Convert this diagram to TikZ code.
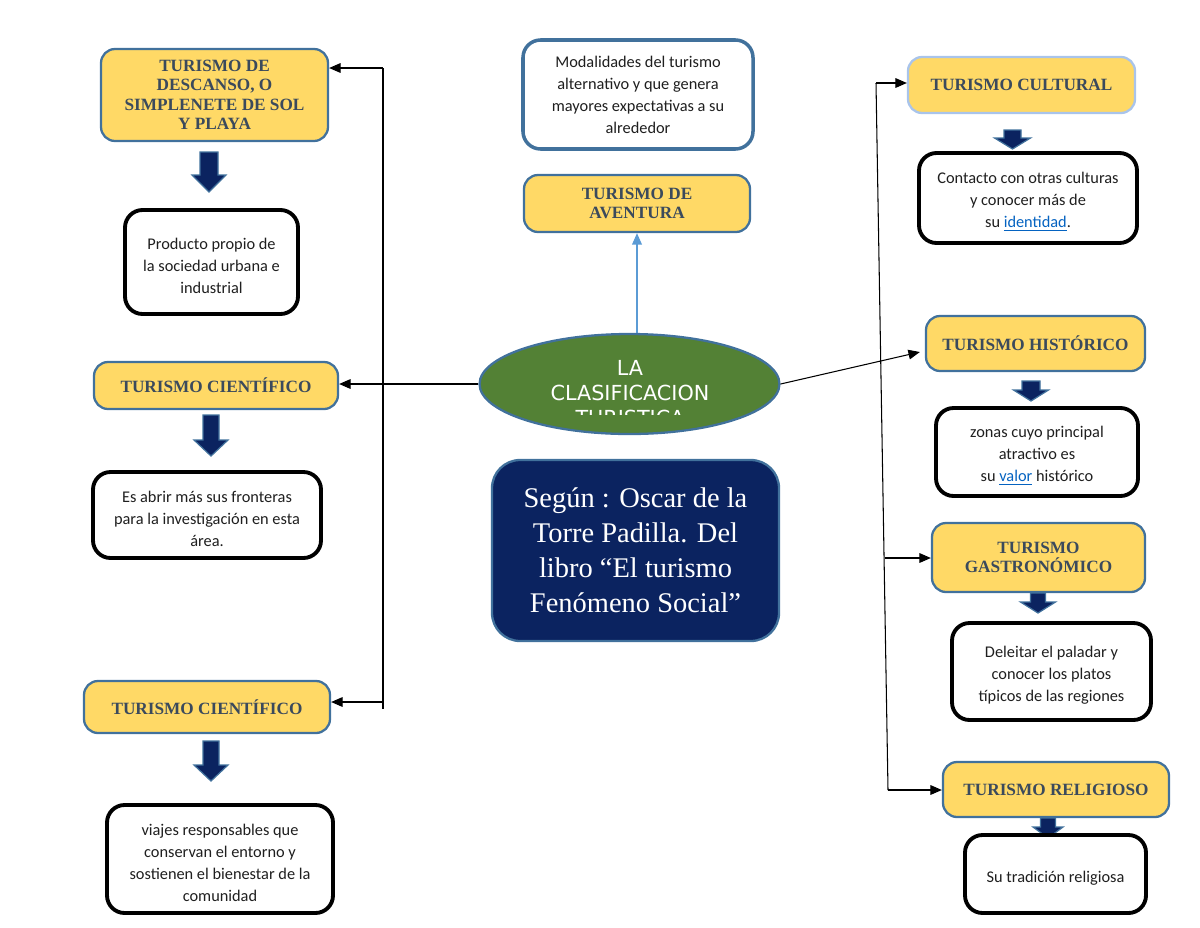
\documentclass[tikz,border=0pt]{standalone}
\usepackage{fontspec}
\setmainfont{Liberation Serif}
\newfontfamily\bodyfont{Carlito}
\newfontfamily\ellfont{DejaVu Sans}
\usetikzlibrary{arrows.meta,shapes.geometric,calc}
\definecolor{yfill}{HTML}{FFD966}
\definecolor{bord}{HTML}{41719C}
\definecolor{ltbord}{HTML}{A9C4EB}
\definecolor{ytext}{HTML}{3B4A5C}
\definecolor{navyfill}{HTML}{0B2360}
\definecolor{ellgreen}{HTML}{538135}
\definecolor{lnk}{HTML}{0563C1}
\definecolor{ltblue}{HTML}{5B9BD5}
\definecolor{bodytext}{HTML}{1F1F1F}
\newcommand\lnkword[1]{\textcolor{lnk}{\underline{#1}}}
\newcommand\tstrut{\rule{0pt}{11pt}}
\newcommand\blkarrow[6]{%
  \filldraw[fill=navyfill, draw=bord, line width=0.7pt, line join=miter]
  ({#1-#5},#2) -- ({#1+#5},#2) -- ({#1+#5},#3) -- ({#1+#6},#3) -- (#1,#4)
  -- ({#1-#6},#3) -- ({#1-#5},#3) -- cycle;}
% \boxat{style}{name}{x1}{y1}{x2}{y2}{text}
\newcommand\boxat[7]{%
  \node[#1, minimum width={(#5-#3)*0.02cm}, minimum height={(#6-#4)*0.02cm}]
  (#2) at ({(#3+#5)/2},{(#4+#6)/2}) {#7};}
\tikzset{
  ybox/.style={draw=bord, line width=1.3pt, fill=yfill, rounded corners=8pt,
    inner sep=0pt, align=center, text=ytext,
    font=\fontsize{9.8}{11.1}\selectfont\bfseries},
  bbox/.style={draw=black, line width=2.2pt, fill=white, rounded corners=10pt,
    inner sep=0pt, align=center, text=bodytext,
    font=\bodyfont\fontsize{9.3}{12.5}\selectfont},
  mbox/.style={draw=bord, line width=2pt, fill=white, rounded corners=10pt, inner sep=0pt,
    align=center, text=bodytext, font=\bodyfont\fontsize{9.3}{12.5}\selectfont},
  nbox/.style={draw=bord, line width=1.3pt, fill=navyfill, rounded corners=16pt, inner sep=0pt,
    align=center, text=white, font=\fontsize{16.2}{20}\selectfont},
  elltext/.style={anchor=base, text=white, font=\ellfont\fontsize{11.8}{14}\selectfont, inner sep=0pt},
  conn/.style={draw=black, line width=0.6pt, -{Triangle[length=6.5pt,width=5.5pt]}},
  trunk/.style={draw=black, line width=0.6pt},
}
\begin{document}
\begin{tikzpicture}[x=0.02cm,y=-0.02cm]
\useasboundingbox (0,0) rectangle (1200,927);
% ---------------- left column
\boxat{ybox}{desc}{101}{49}{328}{141}{TURISMO DE\\DESCANSO, O\\SIMPLENETE DE SOL\\Y PLAYA}
\blkarrow{209}{152}{175}{192}{9}{17}
\boxat{bbox}{descb}{125}{210}{298}{314}{\tstrut Producto propio de\\la sociedad urbana e\\industrial}
\boxat{ybox}{cien1}{94}{362}{338}{409}{TURISMO CIENTÍFICO}
\blkarrow{211}{415}{440}{456}{8}{17}
\boxat{bbox}{cien1b}{93}{472}{321}{558}{\tstrut Es abrir más sus fronteras\\para la investigación en esta\\área.}
\boxat{ybox}{cien2}{84}{681}{330}{733}{TURISMO CIENTÍFICO}
\blkarrow{211}{741}{765}{781}{8}{17}
\boxat{bbox}{cien2b}{107}{805}{333}{913}{\tstrut viajes responsables que\\conservan el entorno y\\sostienen el bienestar de la\\comunidad}
% ---------------- centre
\boxat{mbox}{modal}{523}{40}{753}{149}{Modalidades del turismo\\alternativo y que genera\\mayores expectativas a su\\alrededor}
\boxat{ybox}{aven}{524}{175}{750}{232}{TURISMO DE\\AVENTURA}
\node[ellipse, draw=bord, line width=1.3pt, fill=ellgreen, minimum width=6cm,
  minimum height=2cm, inner sep=0pt] (ell) at (629.5,384) {};
\begin{scope}
  \clip (480,330) rectangle (780,414);
  \node[elltext] (ell1) at (630,375) {LA};
  \node[elltext] (ell2) at (630,400) {CLASIFICACION};
  \node[elltext] (ell3) at (630,425) {TURISTICA};
\end{scope}
\boxat{nbox}{autor}{492}{460}{779}{641}{Según : Oscar de la\\Torre Padilla. Del\\libro “El turismo\\Fenómeno Social”}
\draw[ltblue, line width=0.8pt, -{Triangle[length=6.5pt,width=5.5pt]}] (ell.north -| aven.south) -- (aven.south);
% ---------------- right column
\boxat{ybox, draw=ltbord}{cult}{908}{57}{1135}{113}{TURISMO CULTURAL}
\blkarrow{1012.5}{130}{138}{149}{8.5}{18}
\boxat{bbox}{cultb}{919}{153}{1137}{243}{\tstrut Contacto con otras culturas\\y conocer más de\\su \lnkword{identidad}.}
\boxat{ybox}{hist}{926}{316}{1145}{371}{TURISMO HISTÓRICO}
\blkarrow{1031}{381}{390}{401}{9}{17.5}
\boxat{bbox}{histb}{936}{408}{1138}{496}{\tstrut zonas cuyo principal\\atractivo es\\su \lnkword{valor} histórico}
\boxat{ybox}{gast}{932}{523}{1145}{592}{TURISMO\\GASTRONÓMICO}
\blkarrow{1038}{593}{602}{613}{7.5}{17.5}
\boxat{bbox}{gastb}{952}{623}{1151}{720}{\tstrut Deleitar el paladar y\\conocer los platos\\típicos de las regiones}
\boxat{ybox}{reli}{943}{762}{1169}{817}{TURISMO RELIGIOSO}
\blkarrow{1048}{818}{827}{838}{7.5}{15}
\boxat{bbox}{relib}{965}{835}{1146}{913}{\tstrut Su tradición religiosa}
% ---------------- connectors
\coordinate (lt1) at (383,68);
\coordinate (lt2) at (383,702);
\coordinate (lt3) at (383,709);
\draw[trunk] (lt1) -- (lt3);
\draw[conn] (lt1) -- (desc.east |- lt1);
\draw[conn] (lt2) -- (cien2.east |- lt2);
\draw[conn] (ell.west) -- (cien1.east |- ell.west);
\coordinate (rt1) at (876,83);
\coordinate (rt2) at (884.5,558);
\coordinate (rt3) at (888,790);
\draw[trunk] (rt1) -- (rt3);
\draw[conn] (rt1) -- (cult.west |- rt1);
\draw[conn] (rt2) -- (gast.west |- rt2);
\draw[conn] (rt3) -- (reli.west |- rt3);
\draw[conn] (ell.east) -- ($(hist.west)+(-5,8.5)$);
\end{tikzpicture}
\end{document}
